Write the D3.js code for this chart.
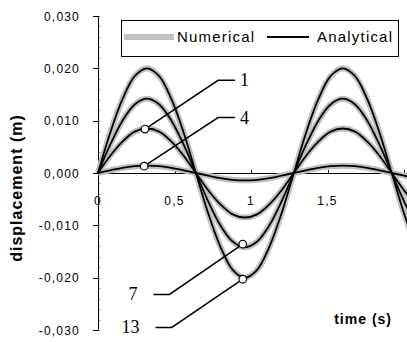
<!DOCTYPE html>
<html>
<head>
<meta charset="utf-8">
<script src="https://cdn.jsdelivr.net/npm/d3@7"></script>
<style>
  body { margin: 0; background: #fff; }
  svg { display: block; font-family: "Liberation Sans", Arial, sans-serif; }
</style>
</head>
<body>
<script>
// sample times (s)
const times = [0, 0.08, 0.16, 0.24, 0.32, 0.40, 0.48, 0.56, 0.64, 0.72, 0.80, 0.88, 0.96,
  1.04, 1.12, 1.20, 1.28, 1.36, 1.44, 1.52, 1.60, 1.68, 1.76, 1.84, 1.92, 2.00, 2.08];

// displacement (m) of each curve
const curve13 = [0, 0.0077, 0.0141, 0.0185, 0.0200, 0.0185, 0.0141, 0.0077, 0, -0.0077, -0.0141, -0.0185, -0.0200,
  -0.0185, -0.0141, -0.0077, 0, 0.0077, 0.0141, 0.0185, 0.0200, 0.0185, 0.0141, 0.0077, 0, -0.0077, -0.0141];
const curve7 = [0, 0.0054, 0.0100, 0.0131, 0.0142, 0.0131, 0.0100, 0.0054, 0, -0.0054, -0.0100, -0.0131, -0.0142,
  -0.0131, -0.0100, -0.0054, 0, 0.0054, 0.0100, 0.0131, 0.0142, 0.0131, 0.0100, 0.0054, 0, -0.0054, -0.0100];
const curve1 = [0, 0.0033, 0.0060, 0.0079, 0.0085, 0.0079, 0.0060, 0.0033, 0, -0.0033, -0.0060, -0.0079, -0.0085,
  -0.0079, -0.0060, -0.0033, 0, 0.0033, 0.0060, 0.0079, 0.0085, 0.0079, 0.0060, 0.0033, 0, -0.0033, -0.0060];
const curve4 = [0, 0.0005, 0.0010, 0.0013, 0.0014, 0.0013, 0.0010, 0.0005, 0, -0.0005, -0.0010, -0.0013, -0.0014,
  -0.0013, -0.0010, -0.0005, 0, 0.0005, 0.0010, 0.0013, 0.0014, 0.0013, 0.0010, 0.0005, 0, -0.0005, -0.0010];
const curves = [curve13, curve7, curve1, curve4];

const yTicks = [-0.03, -0.02, -0.01, 0, 0.01, 0.02, 0.03];
const xTicks = [0, 0.5, 1, 1.5];

// labels: name, point on curve (t, v), elbow (t, v), end t
const labelNames = ['1', '4', '7', '13'];
const labelPoint = [[0.307, 0.0084], [0.302, 0.0013], [0.946, -0.0136], [0.946, -0.0203]];
const labelElbow = [[0.785, 0.0177], [0.785, 0.0106], [0.467, -0.0232], [0.482, -0.0295]];
const labelEndT = [0.895, 0.895, 0.363, 0.376];

const W = 407, H = 342;
const svg = d3.select('body').append('svg').attr('width', W).attr('height', H);

const x = d3.scaleLinear().domain([0, 2]).range([98, 404]);
const y = d3.scaleLinear().domain([-0.03, 0.03]).range([330, 16]);
const comma = v => d3.format('.3f')(v).replace('.', ',').replace('−', '-');

// y axis
svg.append('line').attr('x1', 98.5).attr('x2', 98.5).attr('y1', y(0.03)).attr('y2', y(-0.03))
  .attr('stroke', '#000');
svg.selectAll('.minor').data(d3.range(-0.03, 0.0301, 0.002)).enter().append('line')
  .attr('x1', 99).attr('x2', 100.5).attr('y1', d => Math.round(y(d)) + 0.5).attr('y2', d => Math.round(y(d)) + 0.5)
  .attr('stroke', '#999');
svg.selectAll('.ytick').data(yTicks).enter().append('line')
  .attr('x1', 93).attr('x2', 98.5).attr('y1', d => Math.round(y(d)) + 0.5).attr('y2', d => Math.round(y(d)) + 0.5)
  .attr('stroke', '#000');
svg.selectAll('.ylab').data(yTicks).enter().append('text')
  .attr('x', 80).attr('y', d => y(d) + 4.5)
  .attr('text-anchor', 'end').attr('font-size', 12).attr('letter-spacing', 1.2)
  .text(d => comma(d));

// x axis
svg.append('line').attr('x1', x(0)).attr('x2', W).attr('y1', Math.round(y(0)) + 0.5).attr('y2', Math.round(y(0)) + 0.5)
  .attr('stroke', '#000');
svg.selectAll('.xtick').data(xTicks.slice(1).concat([2])).enter().append('line')
  .attr('x1', d => Math.round(x(d)) + 0.5).attr('x2', d => Math.round(x(d)) + 0.5)
  .attr('y1', Math.round(y(0)) - 3).attr('y2', Math.round(y(0)))
  .attr('stroke', '#000');
svg.selectAll('.xlab').data(xTicks).enter().append('text')
  .attr('x', d => x(d)).attr('y', y(0) + 32)
  .attr('text-anchor', 'middle').attr('font-size', 12).attr('letter-spacing', 1.2)
  .text(d => d === 0 ? '0' : String(d).replace('.', ','));

// axis titles
svg.append('text')
  .attr('transform', `translate(22,${188}) rotate(-90)`)
  .attr('text-anchor', 'middle').attr('font-size', 16).attr('font-weight', 'bold').attr('letter-spacing', 1)
  .text('displacement (m)');
svg.append('text')
  .attr('x', 392).attr('y', 324)
  .attr('text-anchor', 'end').attr('font-size', 14).attr('font-weight', 'bold').attr('letter-spacing', 1)
  .text('time (s)');

// curves
const line = d3.line().x((d, i) => x(times[i])).y(d => y(d)).curve(d3.curveCatmullRom);
svg.append('g').selectAll('path').data(curves).enter().append('path')
  .attr('d', line).attr('fill', 'none').attr('stroke', '#c0c0c0').attr('stroke-width', 6);
svg.append('g').selectAll('path').data(curves).enter().append('path')
  .attr('d', line).attr('fill', 'none').attr('stroke', '#000').attr('stroke-width', 1.8);

// labels with leaders
labelNames.forEach((name, i) => {
  const p = labelPoint[i], e = labelElbow[i], endT = labelEndT[i];
  svg.append('polyline')
    .attr('points', [[x(p[0]), y(p[1])], [x(e[0]), y(e[1])], [x(endT), y(e[1])]].map(q => q.join(',')).join(' '))
    .attr('fill', 'none').attr('stroke', '#000').attr('stroke-width', 1.5);
  svg.append('circle').attr('cx', x(p[0])).attr('cy', y(p[1])).attr('r', 3.8)
    .attr('fill', '#fff').attr('stroke', '#000').attr('stroke-width', 1.2);
  const right = endT > e[0];
  svg.append('text')
    .attr('x', right ? x(endT) + 5 : x(endT) - 16)
    .attr('y', y(e[1]) + 6)
    .attr('text-anchor', right ? 'start' : 'end')
    .style('font-family', '"Liberation Serif", "Times New Roman", serif').attr('font-size', 18)
    .text(name);
});

// legend
const lg = svg.append('g');
lg.append('rect').attr('x', 121.5).attr('y', 20.5).attr('width', 277).attr('height', 36)
  .attr('fill', '#fff').attr('stroke', '#000');
lg.append('line').attr('x1', 124).attr('x2', 174).attr('y1', 37).attr('y2', 37)
  .attr('stroke', '#c0c0c0').attr('stroke-width', 6);
lg.append('text').attr('x', 177).attr('y', 42).attr('font-size', 15).attr('letter-spacing', 1.2).text('Numerical');
lg.append('line').attr('x1', 267).attr('x2', 309).attr('y1', 37).attr('y2', 37)
  .attr('stroke', '#000').attr('stroke-width', 1.8);
lg.append('text').attr('x', 317).attr('y', 42).attr('font-size', 15).attr('letter-spacing', 1.2).text('Analytical');
</script>
</body>
</html>
